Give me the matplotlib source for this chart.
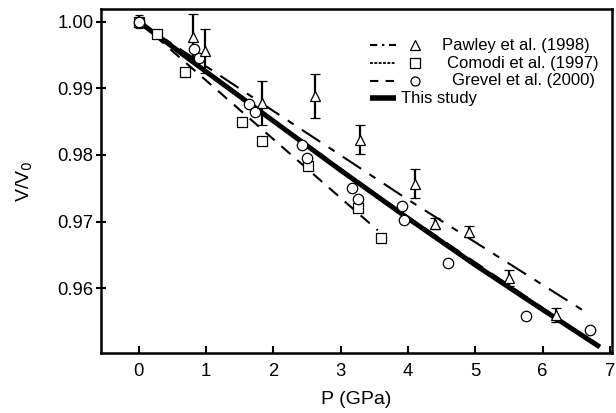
import matplotlib
matplotlib.use("Agg")
import matplotlib.pyplot as plt
from matplotlib.lines import Line2D

plt.rcParams["font.family"] = ["Liberation Sans", "DejaVu Sans"]

# Pawley et al. (1998): triangles with error bars
pawley_p = [0.80, 0.98, 1.83, 2.62, 3.29, 4.10, 4.40, 4.91, 5.50, 6.20]
pawley_v = [0.9977, 0.9956, 0.9878, 0.9889, 0.9823, 0.9757, 0.9697, 0.9685, 0.9615, 0.9560]
pawley_err = [0.0034, 0.0033, 0.0033, 0.0033, 0.0022, 0.0022, 0.0008, 0.0008, 0.0012, 0.0010]

# Comodi et al. (1997): squares
comodi_p = [0.0, 0.27, 0.69, 1.53, 1.83, 2.52, 3.25, 3.60]
comodi_v = [1.0, 0.9981, 0.9925, 0.9849, 0.9821, 0.9783, 0.9721, 0.9676]

# Grevel et al. (2000): circles
grevel_p = [0.0, 0.82, 0.89, 1.64, 1.72, 2.42, 2.50, 3.17, 3.25, 3.91, 3.94, 4.60, 5.75, 6.70]
grevel_v = [1.0, 0.9959, 0.9946, 0.9877, 0.9865, 0.9815, 0.9796, 0.9750, 0.9734,
            0.9723, 0.9702, 0.9638, 0.9559, 0.9537]
grevel_err0 = 0.001

# fitted curves
pawley_fit_p = [0.0, 2.0, 4.0, 6.66]
pawley_fit_v = [1.0, 0.9866, 0.9733, 0.9563]
comodi_fit_p = [0.0, 3.55]
comodi_fit_v = [1.0, 0.9687]
grevel_fit_p = [0.0, 2.0, 4.0, 6.2]
grevel_fit_v = [1.0, 0.9852, 0.9707, 0.9557]
study_p = [0.0, 1.0, 2.0, 3.0, 4.0, 5.0, 6.0, 6.85]
study_v = [1.0, 0.9925, 0.9851, 0.9777, 0.9705, 0.9635, 0.9568, 0.9512]

fig = plt.figure(figsize=(6.16, 4.13), dpi=100)
ax = fig.add_axes([0.164, 0.1453, 0.8295, 0.8329])

ax.plot(comodi_fit_p, comodi_fit_v, color="black", lw=1.5, dashes=(5.8, 4.3))
ax.plot(pawley_fit_p, pawley_fit_v, color="black", lw=1.5, dashes=(10.5, 4.8, 3.4, 4.8))
ax.plot(grevel_fit_p, grevel_fit_v, color="black", lw=1.5, dashes=(8, 5))
ax.plot(study_p, study_v, color="black", lw=3.6, solid_capstyle="butt")

mk = dict(mfc="white", mec="black", mew=0.9, ls="none", ms=7.5)
ax.errorbar(pawley_p, pawley_v, yerr=pawley_err, fmt="^", ecolor="black",
            elinewidth=1.6, capsize=3.5, capthick=1.6, zorder=4, **mk)
ax.plot(comodi_p, comodi_v, "s", zorder=4, **mk)
ax.errorbar(grevel_p[:1], grevel_v[:1], yerr=grevel_err0, fmt="o", ecolor="black",
            elinewidth=1.6, capsize=3, capthick=1.6, zorder=4, **mk)
ax.plot(grevel_p[1:], grevel_v[1:], "o", zorder=4, **mk)

ax.set_xlim(-0.56, 7.03)
ax.set_ylim(0.9503, 1.0019)
ax.set_xticks(range(0, 8))
ax.set_yticks([0.96, 0.97, 0.98, 0.99, 1.00])
ax.set_yticklabels(["0.96", "0.97", "0.98", "0.99", "1.00"])
ax.tick_params(axis="x", direction="in", length=5.3, width=1.5, labelsize=13.3, pad=7)
ax.tick_params(axis="y", direction="inout", length=7, width=1.5, labelsize=13.3, pad=2)
for s in ax.spines.values():
    s.set_linewidth(1.8)
ax.set_xlabel("P (GPa)", fontsize=14, labelpad=8)
ax.set_ylabel("V/V$_0$", fontsize=14)
ax.yaxis.set_label_coords(-0.13, 0.5)

# legend drawn by hand to keep the line / marker / text layout
tr = ax.transAxes
rows = [
    ("Pawley et al. (1998)", dict(lw=1.5, dashes=(3.5, 2.2, 1.2, 2.2)), "^", 0.667),
    ("Comodi et al. (1997)", dict(lw=1.3, dashes=(1.6, 0.8)), "s", 0.678),
    ("Grevel et al. (2000)", dict(lw=1.5, dashes=(4, 3.5)), "o", 0.686),
    ("This study", dict(lw=4, solid_capstyle="butt"), None, 0.588),
]
ys = [0.895, 0.843, 0.792, 0.741]
for (lab, st, m, tx), y in zip(rows, ys):
    ax.add_line(Line2D([0.526, 0.578], [y, y], color="black", transform=tr, **st))
    if m is not None:
        ax.add_line(Line2D([0.614], [y], marker=m, ms=6.5, mfc="white", mec="black",
                           mew=0.9, transform=tr))
    ax.text(tx, y, lab, transform=tr, fontsize=12, va="center")

fig.savefig("out.png", dpi=100)
